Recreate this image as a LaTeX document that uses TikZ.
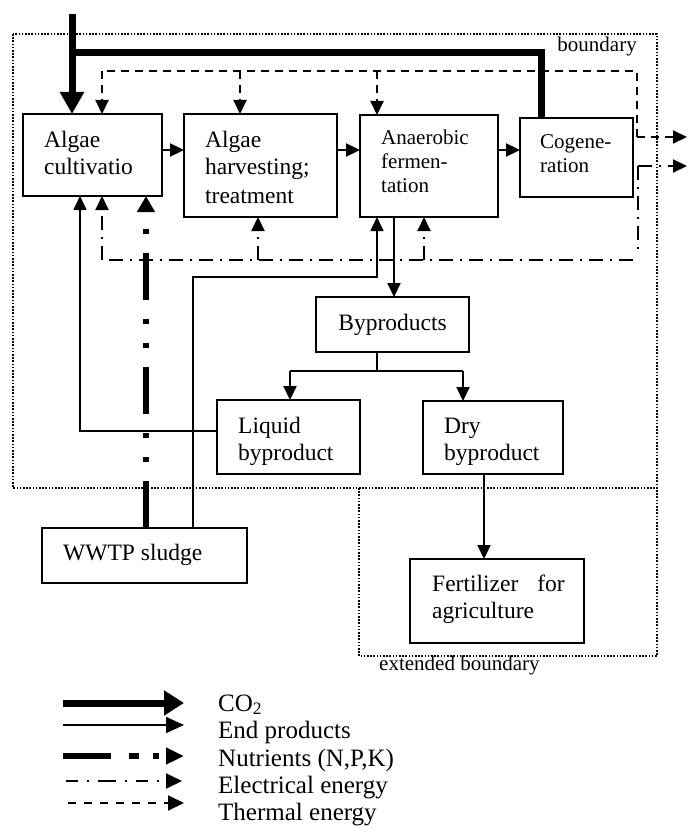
\documentclass[tikz,border=0pt]{standalone}
\usepackage{fontspec}
\setmainfont{Liberation Serif}
\usetikzlibrary{arrows.meta}
\newcommand\fsbox{\fontsize{23.5pt}{27pt}\selectfont}
\newcommand\fssmall{\fontsize{21pt}{24pt}\selectfont}
\newcommand\fsleg{\fontsize{25pt}{27pt}\selectfont}
\begin{document}
\begin{tikzpicture}[x=1pt,y=-1pt,
  box/.style={draw, line width=1.8pt, inner sep=0pt, outer sep=0pt},
  txt/.style={anchor=base west, inner sep=0pt, font=\fsbox},
  stxt/.style={anchor=base west, inner sep=0pt, font=\fssmall},
  endp/.style={line width=1.6pt},
  conn/.style={line width=2.2pt},
  arr/.style={-{Triangle[length=14pt,width=13pt]}},
  co2/.style={line width=7pt},
  co2arr/.style={-{Triangle[length=22pt,width=23pt]}},
  therm/.style={line width=2pt, dash pattern=on 8pt off 6pt},
  elec/.style={line width=2pt, dash pattern=on 14pt off 7pt on 2pt off 7pt},
  nutr/.style={line width=6pt, dash pattern=on 47pt off 19pt on 5pt off 19pt on 5pt off 19pt},
  nutarr/.style={-{Triangle[length=16pt,width=17pt]}},
  bnd/.style={line width=2pt, dash pattern=on 1.6pt off 1.6pt},
  legtxt/.style={anchor=base west, inner sep=0pt, font=\fsleg}
]
\useasboundingbox (0,0) rectangle (688,837);

% boundaries
\draw[bnd] (13,34) rectangle (657,488);
\draw[bnd] (359,488) -- (359,656) -- (657,656) -- (657,488);
\node[anchor=base east, inner sep=0pt, font=\fssmall] (blab) at (637,52) {boundary};
\node[anchor=base west, inner sep=0pt, font=\fssmall] (eblab) at (379,670) {extended boundary};

% boxes
\node[box, minimum width=139pt, minimum height=82pt] (ac) at (92.5,155) {};
\node[box, minimum width=153pt, minimum height=103pt] (ah) at (260.5,165.5) {};
\node[box, minimum width=138pt, minimum height=102pt] (af) at (429,166) {};
\node[box, minimum width=113pt, minimum height=79pt] (cg) at (576.5,157.5) {};
\node[box, minimum width=153pt, minimum height=55pt] (bp) at (392.5,324.5) {};
\node[box, minimum width=143pt, minimum height=74pt] (lq) at (288.5,437) {};
\node[box, minimum width=140pt, minimum height=73pt] (dr) at (493,437.5) {};
\node[box, minimum width=205pt, minimum height=55pt] (ww) at (144.5,555.5) {};
\node[box, minimum width=174pt, minimum height=84pt] (fz) at (497,601) {};

% texts
\node[txt] (ac1) at (44,148) {Algae};
\node[txt] (ac2) at (44,175) {cultivatio};
\node[txt] (ah1) at (205,148) {Algae};
\node[txt] (ah2) at (205,175) {harvesting;};
\node[txt] (ah3) at (205,203) {treatment};
\node[stxt] (af1) at (381,145) {Anaerobic};
\node[stxt] (af2) at (381,169) {fermen-};
\node[stxt] (af3) at (381,193) {tation};
\node[stxt] (cg1) at (540,149) {Cogene-};
\node[stxt] (cg2) at (540,173) {ration};
\node[anchor=base, inner sep=0pt, font=\fsbox] (bp1) at (392.5,330) {Byproducts};
\node[txt] (lq1) at (238,433) {Liquid};
\node[txt] (lq2) at (238,460) {byproduct};
\node[txt] (dr1) at (444,433) {Dry};
\node[txt] (dr2) at (444,460) {byproduct};
\node[txt] (ww1) at (63,560) {WWTP sludge};
\node[txt] (fz1) at (432,591) {Fertilizer\hspace{19pt}for};
\node[txt] (fz2) at (432,618) {agriculture};

% CO2
\coordinate (co2in) at (72,14);
\draw[co2,co2arr] (co2in) -- (ac.north -| co2in);
\draw[co2] (cg.north -| 541,0) -- (541,53) -- (72,53);

% main process arrows
\draw[conn,arr] (ac.east |- 0,150) -- (ah.west |- 0,150);
\draw[conn,arr] (ah.east |- 0,150) -- (af.west |- 0,150);
\draw[conn,arr] (af.east |- 0,150) -- (cg.west |- 0,150);
\draw[conn,arr] (af.south -| 394,0) -- (bp.north -| 394,0);
\draw[endp] (bp.south -| 377,0) -- (377,371);
\draw[conn] (290,371) -- (463,371);
\draw[conn,arr] (290,371) -- (lq.north -| 290,0);
\draw[conn,arr] (463,371) -- (dr.north -| 463,0);
\draw[conn,arr] (dr.south -| 484,0) -- (fz.north -| 484,0);

% end product returns
\draw[endp,arr] (lq.west |- 0,431) -- (80,431) -- (ac.south -| 80,0);
\draw[endp,arr] (ww.north -| 193,0) -- (193,277) -- (377,277) -- (af.south -| 377,0);

% nutrients
\draw[nutr,nutarr] (ww.north -| 146,0) -- (ac.south -| 146,0);

% thermal energy
\coordinate (th0) at (637,137);
\coordinate (thout) at (687,137);
\draw[therm] (th0) -- (637,71) -- (102,71);
\draw[therm,arr] (102,71) -- (ac.north -| 102,0);
\draw[therm,arr] (240,71) -- (ah.north -| 240,0);
\draw[therm,arr] (377,71) -- (af.north -| 377,0);
\draw[therm,arr] (th0) -- (thout);

% electrical energy
\coordinate (el0) at (638,166);
\coordinate (elout) at (687,166);
\draw[elec,arr] (el0) -- (elout);
\draw[elec] (el0) -- (638,252);
\draw[elec] (633,260) -- (102,260);
\draw[elec,arr] (102,260) -- (ac.south -| 102,0);
\draw[elec,arr] (258,260) -- (ah.south -| 258,0);
\draw[elec,arr] (424,260) -- (af.south -| 424,0);

% legend
\coordinate (l1a) at (63,703);  \coordinate (l1b) at (184,703);
\coordinate (l2a) at (63,725);  \coordinate (l2b) at (184,725);
\coordinate (l3a) at (63,756);  \coordinate (l3b) at (184,756);
\coordinate (l4a) at (66,781);  \coordinate (l4b) at (182,781);
\coordinate (l5a) at (68,803);  \coordinate (l5b) at (184,803);
\draw[co2,-{Triangle[length=20pt,width=24pt]}] (l1a) -- (l1b);
\draw[endp,-{Triangle[length=18pt,width=16pt]}] (l2a) -- (l2b);
\draw[line width=6pt, dash pattern=on 48pt off 18pt on 10pt off 14pt on 6pt off 50pt,-{Triangle[length=18pt,width=16pt]}] (l3a) -- (l3b);
\draw[line width=2pt, dash pattern=on 12pt off 9pt on 2pt off 9pt on 18pt off 9pt on 2pt off 9pt,-{Triangle[length=16pt,width=15pt]}] (l4a) -- (l4b);
\draw[line width=2pt, dash pattern=on 8pt off 8pt,-{Triangle[length=16pt,width=15pt]}] (l5a) -- (l5b);
\node[legtxt] (lt1) at (218,711) {CO\textsubscript{2}};
\node[legtxt] (lt2) at (218,738) {End products};
\node[legtxt] (lt3) at (218,766) {Nutrients (N,P,K)};
\node[legtxt] (lt4) at (218,793) {Electrical energy};
\node[legtxt] (lt5) at (218,820) {Thermal energy};
\end{tikzpicture}
\end{document}
